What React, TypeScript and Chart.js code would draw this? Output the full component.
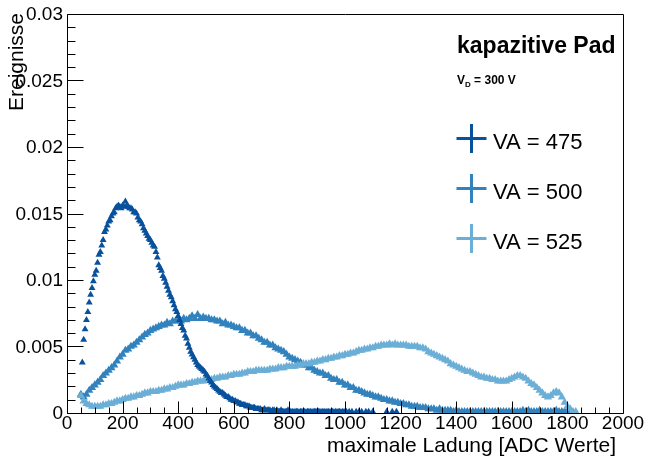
import React, { useEffect, useRef } from "react";
import { Chart, registerables } from "chart.js";

Chart.register(...registerables);

// ---- data ----
// VA = 475 : bins of 5 ADC starting at 55
const va475Start = 55;
const va475Step = 5;
const va475 = [
  0.0038, 0.0055, 0.0063, 0.007, 0.0076, 0.0083, 0.0089, 0.0094, 0.0099, 0.0104,
  0.0107, 0.0113, 0.0119, 0.0121, 0.0126, 0.013, 0.0136, 0.0138, 0.0141, 0.0144,
  0.0145, 0.0148, 0.015, 0.0151, 0.0154, 0.0155, 0.0156, 0.0155, 0.0154, 0.0156,
  0.0155, 0.0159, 0.0156, 0.0155, 0.0154, 0.0154, 0.0153, 0.0151, 0.0151, 0.015,
  0.0147, 0.0145, 0.0144, 0.0142, 0.0139, 0.0137, 0.0135, 0.0133, 0.0131, 0.013,
  0.0128, 0.0126, 0.0125, 0.0121, 0.0117, 0.0111, 0.0109, 0.0107, 0.0103, 0.0101,
  0.0098, 0.0095, 0.0092, 0.0089, 0.0087, 0.0084, 0.0081, 0.0078, 0.0076, 0.0073,
  0.007, 0.0067, 0.0064, 0.0062, 0.0058, 0.0056, 0.0052, 0.0049, 0.0046, 0.0044,
  0.0042, 0.004, 0.0038, 0.0036, 0.0035, 0.0034, 0.0033, 0.0032, 0.0031, 0.0029,
  0.0028, 0.0026, 0.0024, 0.0023, 0.0021, 0.002, 0.0019, 0.0018, 0.0017, 0.0016,
  0.0015, 0.0015, 0.0014, 0.0013, 0.0012, 0.0012, 0.0011, 0.001, 0.001, 0.0009,
  0.0009, 0.0008, 0.0008, 0.0007, 0.0007, 0.0006, 0.0006, 0.0006, 0.0005, 0.0005,
  0.0005, 0.0004, 0.0004, 0.0004, 0.0004, 0.0003, 0.0003, 0.0003, 0.0003, 0.0002,
  0.0002, 0.0003, 0.0002, 0.0002, 0.0002, 0.0002, 0.0001, 0.0002, 0.0002, 0.0001,
  0.0002, 0.0001, 0.0001, 0.0002, 0.0001, 0.0001, 0.0001, 0.0001, 0.0002, 0.0001,
  0.0001, 0.0001, 0.00005, 0.0001, 0.0001, 0.0001, 0.00005, 0.0001, 0.0001, 0.0001,
  0.0001, 0.00005, 0.0001, 0.0001, 0.0001, 0.00005, 0.0001, 0.0001, 0.0001, 0.0001,
  0.0001, 0.0001, 0.00005, 0.0001, 0.0001, 0.00005, 0.0001, 0.0001, 0.00005, 0.0001,
  0.0001, 0.00005, 0.0001, 0.00005, 0.0001, 0.0001, 0.00005, 0.0001, 0.00005, 0.0001,
  0.0001, null, 0.0001, null, 0.0001, null, null, 0.0001, null, 0.0001,
  null, 0.0001, null, null, 0.0001, null, 0.0001, null, null, 0.0001,
  null, null, null, null, null, null, null, null, null, 0.0001,
  null, null, null, 0.0001, null, null, 0.0001, null, null, null,
];

// VA = 500 : bins of 10 ADC starting at 50
const va500Start = 50;
const va500Step = 10;
const va500 = [
  0.0014, 0.0012, 0.0014, 0.0017, 0.0019, 0.0021, 0.0023, 0.0025, 0.0028, 0.003,
  0.0032, 0.0034, 0.0036, 0.0039, 0.0042, 0.0044, 0.0047, 0.0048, 0.005, 0.0051,
  0.0053, 0.0055, 0.0057, 0.0059, 0.006, 0.0062, 0.0063, 0.0064, 0.0065, 0.0066,
  0.0066, 0.0068, 0.0067, 0.0069, 0.0069, 0.007, 0.0069, 0.0071, 0.007, 0.0071,
  0.0073, 0.0071, 0.0074, 0.0071, 0.0072, 0.0071, 0.0071, 0.007, 0.007, 0.0069,
  0.0069, 0.0067, 0.0068, 0.0066, 0.0066, 0.0065, 0.0064, 0.0064, 0.0062, 0.0062,
  0.006, 0.006, 0.0058, 0.0058, 0.0056, 0.0055, 0.0053, 0.0053, 0.0051, 0.0051,
  0.0049, 0.0048, 0.0047, 0.0046, 0.0044, 0.0042, 0.0041, 0.004, 0.0039, 0.0038,
  0.0036, 0.0036, 0.0034, 0.0034, 0.0032, 0.0031, 0.003, 0.003, 0.0028, 0.0028,
  0.0026, 0.0025, 0.0025, 0.0023, 0.0023, 0.0021, 0.0021, 0.0019, 0.0019, 0.0017,
  0.0017, 0.0016, 0.0015, 0.0014, 0.0014, 0.0013, 0.0012, 0.0012, 0.0011, 0.001,
  0.001, 0.0009, 0.0009, 0.0008, 0.0008, 0.0007, 0.0007, 0.0006, 0.0006, 0.0005,
  0.0005, 0.0005, 0.0004, 0.0004, 0.0004, 0.0003, 0.0003, 0.0003, 0.0002, 0.0003,
  0.0002, 0.0002, 0.0002, 0.0002, 0.0001, 0.0002, 0.0001, 0.0001, 0.0001, 0.0001,
  0.0001, 0.0001, 0.0001, 0.0001, 0.0001, 0.0001, 0.0001, 0.0001, 0.0001, 0.0001,
  0.0001, 0.0001, 0.0001, 0.0001, 0.0001, 0.0001, 0.0001, 0.0001, 0.0001, 0.0002,
  0.0001, 0.0002, 0.0001, 0.0001, 0.0001, 0.0002, 0.0001, 0.0001, 0.0001, 0.0001,
  0.0001, 0.0002, 0.0001, 0.0001, 0.0001, 0.0001,
];

// VA = 525 : bins of 10 ADC starting at 50
const va525Start = 50;
const va525Step = 10;
const va525 = [
  0.0013, 0.0009, 0.0007, 0.0006, 0.0005, 0.0005, 0.0005, 0.0005, 0.0006, 0.0006,
  0.0007, 0.0007, 0.0008, 0.0009, 0.0009, 0.001, 0.0011, 0.0011, 0.0012, 0.0012,
  0.0013, 0.0013, 0.0014, 0.0015, 0.0015, 0.0016, 0.0016, 0.0016, 0.0017, 0.0017,
  0.0018, 0.0018, 0.0019, 0.0019, 0.002, 0.0021, 0.0021, 0.0021, 0.0022, 0.0022,
  0.0023, 0.0023, 0.0024, 0.0024, 0.0024, 0.0025, 0.0025, 0.0025, 0.0026, 0.0026,
  0.0027, 0.0027, 0.0027, 0.0028, 0.0028, 0.0029, 0.0029, 0.0029, 0.003, 0.003,
  0.0031, 0.0031, 0.0031, 0.0032, 0.0032, 0.0032, 0.0032, 0.0032, 0.0033, 0.0033,
  0.0033, 0.0034, 0.0034, 0.0034, 0.0035, 0.0035, 0.0035, 0.0035, 0.0036, 0.0036,
  0.0037, 0.0037, 0.0037, 0.0038, 0.0038, 0.0039, 0.0039, 0.004, 0.004, 0.0041,
  0.0041, 0.0042, 0.0042, 0.0043, 0.0043, 0.0044, 0.0044, 0.0045, 0.0045, 0.0046,
  0.0047, 0.0047, 0.0048, 0.0048, 0.0049, 0.0049, 0.005, 0.005, 0.0051, 0.0051,
  0.0051, 0.0052, 0.0051, 0.0052, 0.0051, 0.0051, 0.0051, 0.0051, 0.005, 0.005,
  0.005, 0.005, 0.0049, 0.0049, 0.0048, 0.0046, 0.0045, 0.0044, 0.0043, 0.0042,
  0.0041, 0.004, 0.0039, 0.0037, 0.0036, 0.0035, 0.0034, 0.0033, 0.0032, 0.0031,
  0.0031, 0.003, 0.0029, 0.0028, 0.0027, 0.0027, 0.0026, 0.0026, 0.0025, 0.0025,
  0.0024, 0.0024, 0.0024, 0.0024, 0.0025, 0.0026, 0.0027, 0.0028, 0.0028, 0.0027,
  0.0026, 0.0024, 0.0022, 0.0021, 0.0019, 0.0017, 0.0015, 0.0013, 0.0012, 0.0013,
  0.0015, 0.0016, 0.0015, 0.0012, 0.0008, 0.0005, 0.0003, 0.0001, 0.0001,
];

const seriesLabels = ["VA = 475", "VA = 500", "VA = 525"];
const seriesColors = ["#08519c", "#3182bd", "#6baed6"];
const seriesMarkerRadius = [4, 4.7, 4.7];

const xMin = 0;
const xMax = 2000;
const yMin = 0;
const yMax = 0.03;
const xTickValues = [0, 200, 400, 600, 800, 1000, 1200, 1400, 1600, 1800, 2000];
const xTickLabels = ["0", "200", "400", "600", "800", "1000", "1200", "1400", "1600", "1800", "2000"];
const xMinorStep = 50;
const yTickValues = [0, 0.005, 0.01, 0.015, 0.02, 0.025, 0.03];
const yTickLabels = ["0", "0.005", "0.01", "0.015", "0.02", "0.025", "0.03"];
const yMinorStep = 0.001;

const titleText = "kapazitive Pad";
const xAxisTitle = "maximale Ladung [ADC Werte]";
const yAxisTitle = "Ereignisse";

const FONT = '"Liberation Sans", Arial, Helvetica, sans-serif';

function toPoints(start: number, step: number, values: (number | null)[]) {
  const pts: { x: number; y: number }[] = [];
  values.forEach((v, i) => {
    if (v !== null) pts.push({ x: start + i * step, y: v });
  });
  return pts;
}

const rootDecor = {
  id: "rootDecor",
  afterDraw(chart: any) {
    const { ctx, chartArea: a, scales } = chart;
    const xs = scales.x;
    const ys = scales.y;
    const L = Math.round(a.left) + 0.5;
    const R = Math.round(a.right) + 0.5;
    const T = Math.round(a.top) + 0.5;
    const B = Math.round(a.bottom) + 0.5;
    ctx.save();
    ctx.strokeStyle = "#000";
    ctx.fillStyle = "#000";
    ctx.lineWidth = 1;
    ctx.beginPath();
    ctx.rect(L, T, R - L, B - T);
    ctx.stroke();

    // y ticks (inside)
    ctx.beginPath();
    const nY = Math.round((yMax - yMin) / yMinorStep);
    for (let i = 0; i <= nY; i++) {
      const v = yMin + i * yMinorStep;
      const py = Math.round(ys.getPixelForValue(v)) + 0.5;
      const major = i % 5 === 0;
      ctx.moveTo(L, py);
      ctx.lineTo(L + (major ? 16 : 8), py);
    }
    // x ticks (inside)
    const nX = Math.round((xMax - xMin) / xMinorStep);
    for (let i = 0; i <= nX; i++) {
      const v = xMin + i * xMinorStep;
      const px = Math.round(xs.getPixelForValue(v)) + 0.5;
      const major = i % 4 === 0;
      ctx.moveTo(px, B);
      ctx.lineTo(px, B - (major ? 12 : 6));
    }
    ctx.stroke();

    // tick labels
    ctx.font = `19px ${FONT}`;
    ctx.textAlign = "right";
    ctx.textBaseline = "middle";
    yTickValues.forEach((v, i) => {
      ctx.fillText(yTickLabels[i], 63, ys.getPixelForValue(v) + 1);
    });
    ctx.textAlign = "center";
    xTickValues.forEach((v, i) => {
      ctx.fillText(xTickLabels[i], xs.getPixelForValue(v), 424);
    });

    // axis titles
    ctx.font = `21px ${FONT}`;
    ctx.textAlign = "right";
    ctx.textBaseline = "alphabetic";
    ctx.fillText(xAxisTitle, 616, 452);
    ctx.save();
    ctx.translate(23, 13);
    ctx.rotate(-Math.PI / 2);
    ctx.fillText(yAxisTitle, 0, 0);
    ctx.restore();

    // title texts
    ctx.textAlign = "left";
    ctx.font = `bold 23px ${FONT}`;
    ctx.fillText(titleText, 457, 53);
    ctx.font = `bold 12px ${FONT}`;
    let tx = 457;
    ctx.fillText("V", tx, 84);
    tx += ctx.measureText("V").width;
    ctx.font = `bold 8px ${FONT}`;
    ctx.fillText("D", tx, 87);
    tx += ctx.measureText("D").width;
    ctx.font = `bold 12px ${FONT}`;
    ctx.fillText(" = 300 V", tx, 84);

    // legend
    const cy = [138.5, 188.5, 238.5];
    const cx = 471.5;
    seriesLabels.forEach((lab, i) => {
      ctx.strokeStyle = seriesColors[i];
      ctx.fillStyle = seriesColors[i];
      ctx.lineWidth = 3;
      ctx.beginPath();
      ctx.moveTo(cx - 15, cy[i]);
      ctx.lineTo(cx + 15, cy[i]);
      ctx.moveTo(cx, cy[i] - 14.5);
      ctx.lineTo(cx, cy[i] + 14.5);
      ctx.stroke();
      ctx.beginPath();
      ctx.moveTo(cx, cy[i] - 3);
      ctx.lineTo(cx + 2.6, cy[i] + 1.5);
      ctx.lineTo(cx - 2.6, cy[i] + 1.5);
      ctx.closePath();
      ctx.fill();
      ctx.fillStyle = "#000";
      ctx.font = `22px ${FONT}`;
      ctx.fillText(lab, 493, cy[i] + 10.5);
    });
    ctx.restore();
  },
};

export default function App() {
  const ref = useRef<HTMLCanvasElement | null>(null);

  useEffect(() => {
    document.body.style.margin = "0";
    const canvas = ref.current;
    if (!canvas) return;
    const mk = (i: number, data: { x: number; y: number }[], order: number) => ({
      label: seriesLabels[i],
      data,
      showLine: false,
      pointStyle: "triangle" as const,
      pointRadius: seriesMarkerRadius[i],
      pointHoverRadius: seriesMarkerRadius[i],
      pointBackgroundColor: seriesColors[i],
      pointBorderColor: seriesColors[i],
      pointBorderWidth: 0,
      clip: { left: 10, right: 10, top: 10, bottom: 0 },
      order,
    });
    const chart = new Chart(canvas, {
      type: "scatter",
      data: {
        datasets: [
          mk(0, toPoints(va475Start, va475Step, va475), 1),
          mk(1, toPoints(va500Start, va500Step, va500), 3),
          mk(2, toPoints(va525Start, va525Step, va525), 2),
        ],
      },
      options: {
        responsive: false,
        animation: false,
        events: [],
        devicePixelRatio: 1,
        layout: { padding: { left: 67, right: 26, top: 14, bottom: 46 } },
        scales: {
          x: { type: "linear", min: xMin, max: xMax, display: false },
          y: { type: "linear", min: yMin, max: yMax, display: false },
        },
        plugins: {
          legend: { display: false },
          tooltip: { enabled: false },
        },
      },
      plugins: [rootDecor],
    });
    return () => chart.destroy();
  }, []);

  return (
    <div style={{ position: "absolute", left: 0, top: 0, width: 649, height: 459, background: "#fff" }}>
      <canvas ref={ref} width={649} height={459} style={{ display: "block" }} />
    </div>
  );
}
